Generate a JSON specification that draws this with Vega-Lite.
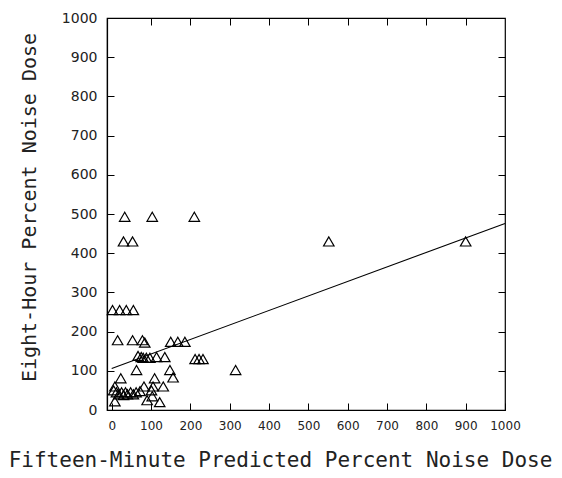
{
  "$schema": "https://vega.github.io/schema/vega-lite/v6.json",
  "width": 398,
  "height": 392,
  "autosize": "none",
  "padding": {"left": 107, "top": 18, "right": 57, "bottom": 68},
  "background": "white",
  "config": {
    "view": {"stroke": "black", "strokeWidth": 1.2},
    "axis": {"grid": false, "domainColor": "black", "tickColor": "black", "labelColor": "#222", "titleColor": "#222", "labelFont": "DejaVu Sans", "titleFont": "DejaVu Sans Mono", "titleFontSize": 20, "titleFontWeight": "normal", "domainWidth": 1.2, "tickWidth": 1, "labelOverlap": false, "labelFlush": false, "format": "d"}
  },
  "datasets": {
    "pts": [
      {"x": 900, "y": 430}, {"x": 552, "y": 430}, {"x": 210, "y": 493}, {"x": 103, "y": 493}, {"x": 33, "y": 493},
      {"x": 30, "y": 430}, {"x": 53, "y": 430},
      {"x": 2, "y": 255}, {"x": 20, "y": 255}, {"x": 37, "y": 255}, {"x": 55, "y": 255},
      {"x": 15, "y": 178}, {"x": 53, "y": 178}, {"x": 78, "y": 178}, {"x": 84, "y": 172},
      {"x": 150, "y": 174}, {"x": 168, "y": 174}, {"x": 186, "y": 174},
      {"x": 67, "y": 138}, {"x": 75, "y": 135}, {"x": 80, "y": 133}, {"x": 88, "y": 133}, {"x": 97, "y": 133}, {"x": 114, "y": 135}, {"x": 135, "y": 135},
      {"x": 212, "y": 130}, {"x": 222, "y": 130}, {"x": 232, "y": 130},
      {"x": 63, "y": 102}, {"x": 148, "y": 102}, {"x": 315, "y": 102},
      {"x": 23, "y": 81}, {"x": 109, "y": 81}, {"x": 156, "y": 83},
      {"x": 8, "y": 60}, {"x": 82, "y": 60}, {"x": 105, "y": 60}, {"x": 131, "y": 60},
      {"x": 5, "y": 50}, {"x": 12, "y": 45}, {"x": 18, "y": 40}, {"x": 25, "y": 45}, {"x": 30, "y": 38}, {"x": 35, "y": 45}, {"x": 40, "y": 40}, {"x": 48, "y": 45}, {"x": 55, "y": 40}, {"x": 62, "y": 45}, {"x": 72, "y": 48}, {"x": 101, "y": 50},
      {"x": 8, "y": 22}, {"x": 90, "y": 25}, {"x": 103, "y": 35}, {"x": 122, "y": 20}
    ],
    "fit": [{"x": 0, "y": 106}, {"x": 1000, "y": 476}]
  },
  "layer": [
    {
      "data": {"name": "pts"},
      "mark": {"type": "point", "shape": "triangle-up", "filled": false, "stroke": "black", "strokeWidth": 1.2, "size": 110, "opacity": 1},
      "encoding": {
        "x": {"field": "x", "type": "quantitative", "scale": {"domain": [-12, 1000], "nice": false, "zero": false},
          "axis": {"values": [0,100,200,300,400,500,600,700,800,900,1000], "tickSize": -7, "labelPadding": 17, "labelFontSize": 12, "title": "Fifteen-Minute Predicted Percent Noise Dose", "titleFontSize": 21, "titlePadding": 18, "titleAnchor": "middle", "titleX": 173}},
        "y": {"field": "y", "type": "quantitative", "scale": {"domain": [0, 1000], "nice": false},
          "axis": {"values": [0,100,200,300,400,500,600,700,800,900,1000], "tickSize": -7, "labelPadding": 17, "labelFontSize": 14, "title": "Eight-Hour Percent Noise Dose", "titlePadding": 22, "titleAnchor": "middle", "titleY": 189}}
      }
    },
    {
      "data": {"name": "fit"},
      "mark": {"type": "line", "color": "black", "strokeWidth": 1.1},
      "encoding": {
        "x": {"field": "x", "type": "quantitative", "axis": {"orient": "top", "values": [100,200,300,400,500,600,700,800,900], "tickSize": -7, "labels": false, "title": null, "domain": false}},
        "y": {"field": "y", "type": "quantitative", "axis": {"orient": "right", "values": [100,200,300,400,500,600,700,800,900], "tickSize": -7, "labels": false, "title": null, "domain": false}}
      }
    }
  ],
  "resolve": {"axis": {"y": "independent", "x": "independent"}}
}
